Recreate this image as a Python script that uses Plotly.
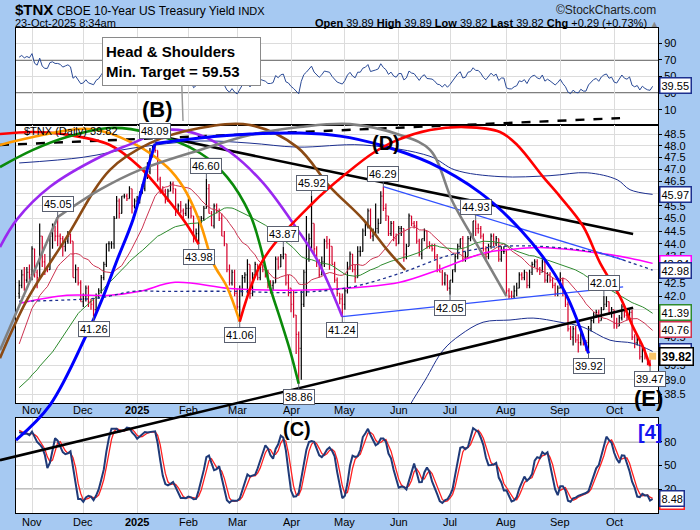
import numpy as np
import pandas as pd
import plotly.graph_objects as go

W, H = 700, 530
FONT = "Liberation Sans, Arial, sans-serif"
BG = "#a6c9f2"
GRID = "#dcdcdc"
UP, DN = "#000000", "#d4002a"

# ---------------- data (TNX = 10-yr yield x 10) ----------------
holidays = ["2024-11-28", "2024-12-25", "2025-01-01", "2025-01-09", "2025-01-20", "2025-02-17",
            "2025-04-18", "2025-05-26", "2025-06-19", "2025-07-04", "2025-09-01", "2025-10-13"]
dates = pd.bdate_range("2024-10-25", "2025-10-23")
dates = dates[~dates.isin(pd.to_datetime(holidays))]

# history before the visible window (Aug 14 - Oct 24, 2024), used for the indicators
pre_closes = [38.3, 39.1, 38.9, 38.7, 38.1, 38.0, 38.6, 38.0, 38.2, 38.3, 38.4, 38.6, 39.1,
              38.4, 37.7, 37.3, 37.2, 37.0, 36.5, 36.5, 36.8, 36.5, 36.2, 36.4, 37.0, 37.3, 37.4,
              37.5, 37.4, 37.9, 38.0, 37.5, 37.8,
              37.4, 37.9, 38.5, 39.8, 40.3, 40.3, 40.7, 40.9, 41.0, 40.3, 40.2, 40.9, 40.8, 41.9,
              42.0, 42.4, 42.1]
pre_highs = [38.1, 38.0, 38.6, 39.9, 40.4, 40.4, 40.8, 41.0, 41.1, 41.0, 40.4, 41.0, 41.0, 42.0, 42.1, 42.6, 42.4]
pre_lows = [37.3, 37.4, 37.9, 38.5, 39.8, 40.0, 40.2, 40.5, 40.6, 40.2, 40.0, 40.2, 40.7, 40.8, 41.8, 42.0, 42.0]

opens = [
    42.1, 42.4, 42.8, 42.6, 42.9,
    42.8, 43.8, 42.9, 42.7, 44.3, 43.3, 43.0, 43.0, 44.3, 44.5, 44.3, 44.3, 44.2, 43.9, 44.1, 44.3, 44.1, 42.7, 43.0, 42.5,
    41.8, 41.9, 42.3, 41.8, 41.7, 41.5, 42.0, 42.2, 42.7, 43.2, 44.0, 44.0, 44.0, 45.0, 45.7, 45.2, 45.9, 45.9, 45.8, 46.2, 45.5,
    45.7, 45.7, 46.0, 46.2, 46.8, 46.9, 47.7, 47.9, 47.8, 46.6, 46.1, 46.1, 45.7, 46.1, 46.4, 46.2, 45.3, 45.5, 45.3, 45.2,
    45.4, 45.4, 45.1, 44.2, 44.4, 44.9, 45.0, 45.4, 46.2, 45.2, 44.7, 45.5, 45.3, 45.0, 44.3, 44.0, 43.0, 42.5, 42.9,
    42.1, 41.6, 42.2, 42.7, 42.8, 43.2, 42.1, 42.8, 43.2, 42.7, 43.1, 43.0, 42.8, 42.4, 42.4, 42.5, 43.4, 43.1, 43.5, 43.6, 42.5,
    42.3, 41.7, 41.3, 40.6, 40.1, 41.7, 42.9, 43.4, 44.2, 44.8, 43.8, 43.3, 42.8, 43.3, 44.1, 44.0, 43.9, 43.2, 42.6, 42.1, 41.9,
    41.7, 42.2, 43.1, 43.6, 43.0, 42.7, 43.7, 43.7, 44.5, 44.7, 45.3, 44.3, 44.4, 44.6, 44.8, 45.9, 45.4, 45.1, 44.4, 44.8, 44.2,
    44.0, 44.6, 44.6, 43.6, 43.9, 45.1, 44.8, 44.7, 44.1, 43.6, 44.2, 44.5, 43.9, 43.9, 43.8, 43.5, 43.0, 42.9, 42.5, 42.8,
    42.3, 42.6, 43.0, 43.5, 43.9, 44.2, 43.4, 43.5, 44.2, 44.3, 44.9, 44.6, 44.6, 44.3, 43.8, 43.5, 43.9, 44.3, 44.0, 44.2, 43.4, 43.7,
    43.7, 42.2, 42.0, 42.0, 42.2, 42.3, 42.8, 42.7, 42.9, 42.4, 42.9, 43.2, 43.3, 43.0, 42.9, 43.3, 42.6, 42.8, 42.6, 42.4, 42.1,
    42.3, 42.6, 42.1, 41.7, 40.8, 40.5, 40.8, 40.4, 40.3, 40.6, 40.3, 40.3, 40.8, 41.1, 41.3, 41.4, 41.1, 41.5, 41.7, 41.8, 41.4,
    41.5, 41.0, 40.9, 41.2, 41.6, 41.3, 41.2, 41.4, 40.5, 40.3, 40.4, 39.8, 40.1, 39.8, 39.6, 39.89]
highs = [
    42.6, 43.0, 43.1, 43.1, 43.2,
    43.9, 43.8, 43.0, 44.8, 44.3, 43.6, 43.1, 44.3, 44.8, 44.7, 45.05, 44.4, 44.3, 44.2, 44.5, 44.4, 44.1, 43.2, 43.1, 42.6,
    42.1, 42.4, 42.4, 41.9, 41.9, 42.1, 42.3, 42.8, 43.3, 44.0, 44.1, 44.1, 45.1, 45.9, 45.8, 45.9, 46.0, 46.0, 46.3, 46.2, 45.8,
    45.9, 46.1, 46.4, 47.0, 47.3, 47.9, 48.0, 48.09, 47.8, 46.7, 46.3, 46.2, 46.2, 46.5, 46.5, 46.2, 45.6, 45.7, 45.4, 45.6,
    45.8, 45.5, 45.1, 44.6, 45.1, 45.1, 45.5, 46.60, 46.4, 45.3, 45.6, 45.6, 45.4, 45.2, 44.5, 44.0, 43.2, 43.0, 43.0,
    42.3, 42.4, 42.8, 42.9, 43.4, 43.2, 42.9, 43.3, 43.2, 43.2, 43.2, 43.0, 43.0, 42.6, 42.6, 43.5, 43.5, 43.6, 43.87, 43.6, 42.8,
    42.3, 42.2, 41.3, 40.7, 42.2, 43.0, 45.1, 44.4, 45.92, 44.8, 43.9, 43.4, 43.5, 44.2, 44.3, 44.2, 43.9, 43.3, 42.7, 42.1, 42.1,
    42.3, 43.3, 43.7, 43.6, 43.2, 43.9, 43.9, 44.6, 44.9, 45.4, 45.4, 44.6, 45.6, 45.0, 46.1, 46.29, 45.6, 45.1, 44.9, 44.9, 44.4,
    44.7, 44.7, 44.6, 44.0, 45.2, 45.1, 44.9, 44.9, 44.2, 44.2, 44.6, 44.5, 44.1, 44.0, 44.0, 43.6, 43.2, 43.0, 42.9, 42.8,
    42.6, 43.0, 43.6, 44.0, 44.2, 44.3, 43.7, 44.3, 44.4, 44.9, 44.93, 44.8, 44.7, 44.4, 43.9, 44.0, 44.4, 44.4, 44.3, 44.2, 43.9, 43.9,
    43.8, 42.3, 42.2, 42.4, 42.5, 42.9, 42.9, 43.0, 42.9, 43.0, 43.3, 43.4, 43.4, 43.1, 43.4, 43.4, 42.9, 42.9, 42.7, 42.5, 42.4,
    42.9, 42.7, 42.2, 41.8, 40.9, 40.9, 40.9, 40.6, 40.7, 40.6, 40.4, 40.9, 41.2, 41.4, 41.5, 41.5, 41.6, 42.01, 42.0, 41.8, 41.6,
    41.5, 41.2, 41.3, 41.7, 41.7, 41.4, 41.5, 41.5, 40.6, 40.6, 40.4, 40.2, 40.1, 39.8, 39.7, 39.89]
lows = [
    41.9, 42.3, 42.2, 42.5, 42.6,
    42.6, 42.7, 42.3, 42.7, 43.1, 42.8, 42.9, 43.0, 43.8, 44.1, 43.9, 43.9, 43.5, 43.7, 44.0, 44.0, 42.7, 42.5, 42.4, 41.8,
    41.6, 41.8, 41.6, 41.5, 41.26, 41.4, 41.9, 42.1, 42.6, 43.1, 43.7, 43.8, 43.8, 45.0, 45.0, 45.2, 45.8, 45.7, 45.8, 45.2, 45.4,
    45.4, 45.6, 46.0, 46.1, 46.6, 46.8, 47.5, 47.7, 46.5, 46.0, 46.0, 45.6, 45.7, 46.1, 46.0, 45.1, 45.2, 45.2, 45.0, 45.1,
    45.0, 45.0, 44.05, 44.1, 43.98, 44.8, 44.9, 45.4, 45.2, 44.7, 44.6, 45.2, 44.9, 44.3, 43.9, 42.9, 42.4, 42.4, 42.0,
    41.5, 41.06, 42.0, 42.5, 42.1, 41.9, 42.0, 42.7, 42.6, 42.6, 42.9, 42.7, 42.3, 42.1, 42.2, 42.5, 43.0, 43.1, 43.4, 42.4, 42.0,
    41.4, 41.2, 39.9, 38.86, 39.0, 41.6, 42.0, 43.3, 43.8, 43.6, 43.1, 42.7, 42.8, 43.1, 43.8, 43.0, 43.2, 42.5, 42.0, 41.7, 41.24,
    41.5, 42.1, 43.0, 42.9, 42.5, 42.7, 43.5, 43.7, 44.3, 44.6, 44.2, 44.1, 44.3, 44.4, 44.8, 45.3, 44.9, 44.3, 44.3, 44.1, 43.9,
    44.0, 44.3, 43.3, 43.4, 43.9, 44.7, 44.6, 44.0, 43.5, 43.4, 44.1, 43.8, 43.8, 43.7, 43.4, 42.9, 42.9, 42.4, 42.4, 42.2,
    42.05, 42.5, 42.9, 43.4, 43.8, 43.3, 43.3, 43.5, 44.1, 44.2, 44.3, 44.4, 44.2, 43.7, 43.4, 43.4, 43.8, 43.9, 43.9, 43.3, 43.3, 43.6,
    42.0, 41.9, 41.9, 41.9, 42.0, 42.3, 42.6, 42.6, 42.3, 42.3, 42.8, 43.1, 42.9, 42.8, 42.9, 42.5, 42.5, 42.5, 42.3, 42.0, 42.0,
    42.3, 42.0, 41.6, 40.7, 40.4, 40.2, 40.3, 39.95, 40.2, 40.2, 40.0, 39.92, 40.7, 41.0, 41.2, 41.0, 41.1, 41.5, 41.6, 41.3, 41.2,
    40.8, 40.8, 40.9, 41.1, 41.2, 41.1, 41.1, 40.4, 40.1, 40.2, 39.7, 39.6, 39.7, 39.5, 39.47, 39.82]
closes = [
    42.4, 42.8, 42.6, 42.9, 42.8,
    43.8, 42.9, 42.7, 44.3, 43.3, 43.0, 43.0, 44.3, 44.5, 44.3, 44.3, 44.2, 43.9, 44.1, 44.3, 44.1, 42.7, 43.0, 42.5, 41.8,
    41.9, 42.3, 41.8, 41.7, 41.5, 42.0, 42.2, 42.7, 43.2, 44.0, 44.0, 44.0, 45.0, 45.7, 45.2, 45.9, 45.9, 45.8, 46.2, 45.5, 45.7,
    45.7, 46.0, 46.2, 46.8, 46.9, 47.7, 47.9, 47.8, 46.6, 46.1, 46.1, 45.7, 46.1, 46.4, 46.2, 45.3, 45.5, 45.3, 45.2, 45.4,
    45.4, 45.1, 44.2, 44.4, 44.9, 45.0, 45.4, 46.2, 45.2, 44.7, 45.5, 45.3, 45.0, 44.3, 44.0, 43.0, 42.5, 42.9, 42.1,
    41.6, 42.2, 42.7, 42.8, 43.2, 42.1, 42.8, 43.2, 42.7, 43.1, 43.0, 42.8, 42.4, 42.4, 42.5, 43.4, 43.1, 43.5, 43.6, 42.5, 42.3,
    41.7, 41.3, 40.6, 40.1, 41.7, 42.9, 43.4, 44.2, 44.8, 43.8, 43.3, 42.8, 43.3, 44.1, 44.0, 43.9, 43.2, 42.6, 42.1, 41.9, 41.7,
    42.2, 43.1, 43.6, 43.0, 42.7, 43.7, 43.7, 44.5, 44.7, 45.3, 44.3, 44.4, 44.6, 44.8, 45.9, 45.4, 45.1, 44.4, 44.8, 44.2, 44.0,
    44.6, 44.6, 43.6, 43.9, 45.1, 44.8, 44.7, 44.1, 43.6, 44.2, 44.5, 43.9, 43.9, 43.8, 43.5, 43.0, 42.9, 42.5, 42.8, 42.3,
    42.6, 43.0, 43.5, 43.9, 44.2, 43.4, 43.5, 44.2, 44.3, 44.9, 44.6, 44.6, 44.3, 43.8, 43.5, 43.9, 44.3, 44.0, 44.2, 43.4, 43.7, 43.7,
    42.2, 42.0, 42.0, 42.2, 42.3, 42.8, 42.7, 42.9, 42.4, 42.9, 43.2, 43.3, 43.0, 42.9, 43.3, 42.6, 42.8, 42.6, 42.4, 42.1, 42.3,
    42.6, 42.1, 41.7, 40.8, 40.5, 40.8, 40.4, 40.3, 40.6, 40.3, 40.3, 40.8, 41.1, 41.3, 41.4, 41.1, 41.5, 41.7, 41.8, 41.4, 41.5,
    41.0, 40.9, 41.2, 41.6, 41.3, 41.2, 41.4, 40.5, 40.3, 40.4, 39.8, 40.1, 39.8, 39.6, 39.53, 39.82]

# overlays (bar index, value)
ma200_x = [0, 18.6, 35.4, 47.1, 60.8, 82.2, 101.7, 121.2, 132.9, 148.5, 162.9, 180.9, 191.4, 203.1, 226.5, 238.2, 247]
ma200_y = [41.73, 42.03, 42.03, 42.18, 42.52, 42.29, 42.22, 42.26, 42.33, 42.52, 42.97, 43.63, 43.78, 43.85, 43.63, 43.44, 43.24]
mid_x = [0, 31.5, 44.4, 56.1, 82.2, 108.4, 129.0, 148.5, 168.0, 183.6, 203.1, 226.5, 238.2, 247]
mid_y = [41.81, 41.94, 42.18, 42.18, 42.18, 42.14, 42.33, 42.86, 43.56, 43.86, 43.90, 43.63, 43.28, 42.98]
upper_x = [0, 25.0, 44.4, 70.5, 90.0, 108.4, 134.1, 160.2, 169.9, 187.5, 207.0, 221.5, 233.2, 238.2, 247]
upper_y = [47.27, 47.51, 47.90, 48.20, 48.11, 47.94, 48.03, 47.55, 46.98, 46.70, 46.74, 46.86, 46.57, 46.16, 45.97]
lower_x = [150.5, 152.4, 158.3, 165.3, 171.9, 180.9, 191.4, 200.4, 210.9, 219.9, 230.4, 239.4, 247]
lower_y = [37.79, 38.13, 38.98, 40.03, 40.57, 41.04, 41.12, 41.19, 41.04, 40.86, 40.39, 40.28, 39.99]

# drawn cycle arcs and trendlines (bar index, price)
arcs = [
    ("#ff0000", 2.6, [-7.5, 5, 17, 35.4, 47, 57.7, 65.4, 70],
     [48.50, 48.59, 48.50, 48.03, 47.10, 45.80, 44.75, 43.98]),
    ("#ff9900", 2.6, [-7.5, 5.4, 27.6, 44.4, 57.7, 63.9, 70.5, 75.6, 81.0, 86],
     [48.03, 48.37, 48.72, 48.11, 47.10, 46.28, 44.84, 43.26, 42.35, 41.06]),
    ("#0a8a0a", 2.6, [-7.5, 5.4, 18.6, 35.4, 51.0, 70.5, 81.0, 90.0, 93.9, 97.8, 101.7, 105.6, 109],
     [47.10, 47.82, 48.37, 48.76, 48.54, 47.69, 46.69, 45.16, 43.95, 42.35, 41.19, 40.03, 38.86]),
    ("#9a28f0", 2.6, [-7.5, -0.85, 12.0, 31.5, 44.4, 56.9, 70.5, 82.2, 95.1, 108.4, 116.2, 126],
     [43.87, 44.96, 46.28, 47.52, 48.11, 48.67, 48.46, 47.73, 46.44, 44.57, 43.37, 41.24]),
    ("#8b4a14", 2.6, [-7.5, 3.05, 17.9, 35.4, 51.0, 70.5, 90.0, 108.4, 121.2, 134.1, 143.5, 150.5],
     [39.75, 41.86, 44.15, 46.98, 48.11, 48.76, 48.89, 47.94, 46.28, 44.96, 43.76, 42.99]),
    ("#808080", 2.6, [15, 31.5, 47.1, 70.5, 90.0, 109.5, 129.0, 148.5, 160.2, 169.2, 179.7, 190],
     [45.05, 46.16, 46.98, 47.82, 48.46, 48.80, 48.93, 48.46, 47.82, 45.63, 43.76, 42.0]),
    ("#0000ff", 3.0, [-1.24, 12.0, 26.5, 32.7, 38.2, 44.4, 49.9, 53],
     [36.96, 38.13, 40.64, 41.97, 43.37, 44.96, 46.98, 48.09]),
    ("#0000ff", 3.0, [53, 70.5, 90.0, 109.5, 125.1, 140.7, 160.2, 179.7, 195.3, 207.0, 213.7, 218.7, 222],
     [48.09, 48.33, 48.50, 48.54, 48.41, 48.03, 47.27, 46.04, 44.57, 43.10, 41.97, 40.83, 39.92]),
    ("#ff0000", 2.6, [86, 95.1, 114.6, 127.9, 138.0, 147.4, 160.2, 173.9, 187.5, 194.2, 204.3, 210.9, 219.9,
                      226.5, 234.3, 239.4, 243.3, 246],
     [41.06, 43.37, 45.63, 46.86, 47.69, 48.24, 48.67, 48.80, 48.59, 48.03, 46.69, 45.88, 44.69, 43.26, 41.97,
      40.86, 40.14, 39.47]),
]
lines = [
    ("#808080", 2.6, "solid", [-7.5, 15], [40.03, 45.05]),
    ("#000000", 2.6, "solid", [-7.48, 239.4], [36.31, 41.57]),
    ("#000000", 2.6, "solid", [55, 239.4], [48.4, 44.38]),
    ("#000000", 2.4, "dash", [-7.48, 234.3], [48.03, 49.19]),
    ("#3050ff", 1.3, "solid", [142, 235.5], [46.29, 43.37]),
    ("#3050ff", 1.3, "solid", [126, 235.5], [41.24, 42.35]),
]

label_idx = [15, 29, 53, 70, 73, 86, 103, 109, 114, 126, 142, 168, 178, 222, 228, 246]
label_val = [45.05, 41.26, 48.09, 43.98, 46.60, 41.06, 43.87, 38.86, 45.92, 41.24, 46.29, 42.05, 44.93, 39.92, 42.01, 39.47]
label_dir = ["up", "dn", "up", "dn", "up", "dn", "up", "dn", "up", "dn", "up", "dn", "up", "dn", "up", "dn"]

tag_vals = [45.97, 43.24, 42.98, 41.39, 40.76, 39.99, 39.82]
tag_cols = ["#1c2f8f", "#ff00ff", "#1c2f8f", "#2e8b2e", "#cc3350", "#1c2f8f", "#000000"]
rsi_last, stoch_last = 39.55, 8.48
hidden_ticks = [46.0, 43.0, 40.0]   # tick labels covered by the value tags

# ---------------- indicators ----------------
x = np.arange(len(dates))
npre = len(pre_closes)
allc = np.array(pre_closes + closes)
d = np.diff(allc)
g = np.where(d > 0, d, 0.0)
l = np.where(d < 0, -d, 0.0)
ag, al = g[:14].mean(), l[:14].mean()
rsi_all = np.full(len(allc), np.nan)
for i in range(14, len(d)):
    ag = (ag * 13 + g[i]) / 14
    al = (al * 13 + l[i]) / 14
    rsi_all[i + 1] = 100 - 100 / (1 + ag / al)
rsi = rsi_all[npre:]

ma20 = pd.Series(allc).rolling(20).mean().values[npre:]
ma50 = pd.Series(allc).rolling(50).mean().values[npre:]

nph = len(pre_highs)
sh = pd.Series(pre_highs + highs)
sl = pd.Series(pre_lows + lows)
sc = pd.Series(pre_closes[-nph:] + closes)
hh, ll = sh.rolling(14).max(), sl.rolling(14).min()
fk = 100 * (sc - ll) / (hh - ll)
sk = fk.rolling(3).mean()
sd = sk.rolling(3).mean()
sk, sd = sk.values[nph:], sd.values[nph:]

# ---------------- geometry ----------------
PX_L, PX_R = 16, 658
X0, X1 = -1.24, 249.1
RSI_T, RSI_B = 28, 125
MAIN_T, MAIN_B = 125, 403
ST_T, ST_B = 418, 513
YMIN, YMAX = 38.20, 48.89
L0, L1 = np.log10(YMIN), np.log10(YMAX)
kx = (X1 - X0) / (PX_R - PX_L)
ov_x = [X0 - PX_L * kx, X1 + (W - PX_R) * kx]
ky = (L1 - L0) / (MAIN_B - MAIN_T)
ov_y = [L0 - (H - MAIN_B) * ky, L1 + MAIN_T * ky]


def pdom(t, b):
    return [1 - b / H, 1 - t / H]


m = dates.to_period("M")
starts = [i for i in range(1, len(dates)) if m[i] != m[i - 1]]
mlabels = ["<b>2025</b>" if dates[i].month == 1 else dates[i].strftime("%b") for i in starts]

fig = go.Figure()

# RSI
fig.add_trace(go.Scatter(x=x, y=rsi, mode="lines", line=dict(color="#2a4a96", width=1),
                         xaxis="x", yaxis="y", hoverinfo="skip"))

# price bars
fig.add_trace(go.Scatter(x=[x[-1]], y=[closes[-1]], mode="markers",
                         marker=dict(symbol="square", size=7, color="#f9c46a", line=dict(width=0)),
                         xaxis="x2", yaxis="y2", hoverinfo="skip"))
fig.add_trace(go.Ohlc(x=x, open=opens, high=highs, low=lows, close=closes,
                      increasing=dict(line=dict(color=UP, width=1.2)),
                      decreasing=dict(line=dict(color=DN, width=1.2)),
                      tickwidth=0.35, xaxis="x2", yaxis="y2", hoverinfo="skip"))

# moving averages / bands
fig.add_trace(go.Scatter(x=x, y=ma20, mode="lines", line=dict(color="#cc3350", width=1),
                         xaxis="x2", yaxis="y2", hoverinfo="skip"))
fig.add_trace(go.Scatter(x=x, y=ma50, mode="lines", line=dict(color="#2e8b2e", width=1),
                         xaxis="x2", yaxis="y2", hoverinfo="skip"))
fig.add_trace(go.Scatter(x=ma200_x, y=ma200_y, mode="lines",
                         line=dict(color="#ff00ff", width=1.5, shape="spline"),
                         xaxis="x2", yaxis="y2", hoverinfo="skip"))
fig.add_trace(go.Scatter(x=mid_x, y=mid_y, mode="lines",
                         line=dict(color="#1c2f8f", width=1.3, dash="dot", shape="spline"),
                         xaxis="x2", yaxis="y2", hoverinfo="skip"))
for bx, by in [(upper_x, upper_y), (lower_x, lower_y)]:
    fig.add_trace(go.Scatter(x=bx, y=by, mode="lines",
                             line=dict(color="#1c2f8f", width=1, shape="spline"),
                             xaxis="x2", yaxis="y2", hoverinfo="skip"))

# stochastics
fig.add_trace(go.Scatter(x=x, y=sd, mode="lines", line=dict(color="#ff2020", width=1.3),
                         xaxis="x3", yaxis="y3", hoverinfo="skip"))
fig.add_trace(go.Scatter(x=x, y=sk, mode="lines", line=dict(color="#1f3a78", width=2),
                         xaxis="x3", yaxis="y3", hoverinfo="skip"))

# drawn annotations on a full-figure overlay that shares the price scale
for col, wd, dash, lx, ly in lines:
    fig.add_trace(go.Scatter(x=lx, y=ly, mode="lines", line=dict(color=col, width=wd, dash=dash),
                             xaxis="x4", yaxis="y4", hoverinfo="skip"))
for col, wd, ax_, ay_ in arcs:
    fig.add_trace(go.Scatter(x=ax_, y=ay_, mode="lines",
                             line=dict(color=col, width=wd, shape="spline", smoothing=1.0),
                             xaxis="x4", yaxis="y4", hoverinfo="skip"))

# ---------------- layout ----------------
xcommon = dict(range=[X0, X1], domain=[PX_L / W, PX_R / W], tickmode="array", tickvals=starts,
               showticklabels=False, showgrid=True, gridcolor=GRID, gridwidth=1, showline=True, mirror=True,
               linecolor="black", linewidth=1, zeroline=False, ticks="", fixedrange=True)
ycommon = dict(side="right", showgrid=True, gridcolor=GRID, gridwidth=1, showline=True, mirror=True,
               linecolor="black", linewidth=1, zeroline=False, ticks="outside", ticklen=3,
               tickcolor="black", tickfont=dict(size=11, color="black", family=FONT), fixedrange=True)
main_ticks = [round(v, 1) for v in np.arange(38.5, 48.51, 0.5)]
main_text = ["" if v in hidden_ticks else f"{v:.1f}" for v in main_ticks]

shapes = []
for t, b in [(RSI_T, RSI_B), (MAIN_T, MAIN_B), (ST_T, ST_B)]:
    d0, d1 = pdom(t, b)
    shapes.append(dict(type="rect", xref="paper", yref="paper", x0=PX_L / W, x1=PX_R / W, y0=d0, y1=d1,
                       fillcolor="white", line=dict(width=0), layer="below"))
for yref, lv, dash in [("y", 70, "solid"), ("y", 30, "solid"), ("y", 50, "dashdot"),
                       ("y3", 80, "solid"), ("y3", 20, "solid"), ("y3", 50, "dashdot")]:
    shapes.append(dict(type="line", xref="paper", yref=yref, x0=PX_L / W, x1=PX_R / W, y0=lv, y1=lv,
                       line=dict(color="black", width=1.2, dash=dash), layer="below"))

ann = []


def ptxt(px, py, text, size=12, anchor="left", bold=False, color="black", **kw):
    ann.append(dict(xref="paper", yref="paper", x=px / W, y=1 - py / H, text=f"<b>{text}</b>" if bold else text,
                    showarrow=False, xanchor=anchor, yanchor="middle",
                    font=dict(size=size, color=color, family=FONT), **kw))


# month labels under the price panel and under the stochastic panel
for i, lab in zip(starts, mlabels):
    px = PX_L + (i - X0) / kx
    ptxt(px, 410, lab, size=11, anchor="center")
    ptxt(px, 522, lab, size=11, anchor="center")

ptxt(13, 10, "<b><span style='font-size:15px'>$TNX</span></b> CBOE 10-Year US Treasury Yield "
             "<span style='font-size:11px'>INDX</span>", size=12)
ptxt(13, 23, "23-Oct-2025 8:34am", size=11)
ptxt(658, 10, "©StockCharts.com", size=12, anchor="right", color="#222")
ptxt(661, 23, "<b>Open</b> 39.89 <b>High</b> 39.89 <b>Low</b> 39.82 <b>Last</b> 39.82 "
              "<b>Chg</b> +0.29 (+0.73%) <span style='color:#888;font-size:9px'>▲</span>", size=11, anchor="right")
ptxt(22, 131, "$TNX (Daily) 39.82", size=11)
ptxt(157, 110, "(B)", size=22, anchor="center", bold=True)
ptxt(386, 143, "(D)", size=20, anchor="center", bold=True)
ptxt(297, 429, "(C)", size=20, anchor="center", bold=True)
ptxt(648, 398, "(E)", size=22, anchor="center", bold=True)
ptxt(650, 432, "[4]", size=20, anchor="center", bold=True, color="#1414f0")

ann.append(dict(xref="paper", yref="paper", x=183 / W, y=1 - 121 / H, ax=-2, ay=-60, axref="pixel", ayref="pixel",
                text="<b>Head & Shoulders<br>Min. Target = 59.53</b>", align="left", showarrow=True,
                arrowhead=0, arrowwidth=1.5, arrowcolor="#9a9a9a", bgcolor="white", bordercolor="#8a8a8a",
                borderwidth=1, borderpad=3, width=151, height=41,
                font=dict(size=15, color="black", family=FONT)))

for i, v, dr in zip(label_idx, label_val, label_dir):
    ann.append(dict(xref="x2", yref="y2", x=i, y=np.log10(v), text=f"{v:.2f}", showarrow=True,
                    arrowhead=0, arrowwidth=1, arrowcolor="#5a6070", ax=0, ay=-13 if dr == "up" else 13,
                    bgcolor="white", bordercolor="#5a6070", borderwidth=1, borderpad=1,
                    font=dict(size=11, color="black", family=FONT)))

for v, c in zip(tag_vals, tag_cols):
    ann.append(dict(xref="paper", yref="y2", x=659 / W, y=np.log10(v), xanchor="left", yanchor="middle",
                    text=f"<b>{v:.2f}</b>" if c == "#000000" else f"{v:.2f}", showarrow=False,
                    bgcolor="white", bordercolor=c, borderwidth=1.5, borderpad=1,
                    font=dict(size=11 if c != "#000000" else 12, color="black", family=FONT)))
ann.append(dict(xref="paper", yref="y", x=659 / W, y=rsi_last, xanchor="left", yanchor="middle",
                text=f"{rsi_last:.2f}", showarrow=False, bgcolor="white", bordercolor="#1c2f8f",
                borderwidth=1.5, borderpad=1, font=dict(size=11, color="black", family=FONT)))
ann.append(dict(xref="paper", yref="y3", x=659 / W, y=sd[-1] - 4, xanchor="left", yanchor="middle",
                text=f"{sd[-1]:.2f}", showarrow=False, bgcolor="white", bordercolor="#ff2020",
                borderwidth=1.5, borderpad=1, font=dict(size=11, color="black", family=FONT)))
ann.append(dict(xref="paper", yref="y3", x=659 / W, y=stoch_last, xanchor="left", yanchor="middle",
                text=f"{stoch_last:.2f}", showarrow=False, bgcolor="white", bordercolor="#1c2f8f",
                borderwidth=1.5, borderpad=1, font=dict(size=11, color="black", family=FONT)))

fig.update_layout(
    width=W, height=H, margin=dict(l=0, r=0, t=0, b=0),
    paper_bgcolor=BG, plot_bgcolor="rgba(0,0,0,0)", showlegend=False,
    font=dict(family=FONT, size=11, color="black"),
    xaxis=dict(xcommon, anchor="y"),
    xaxis2=dict(xcommon, anchor="y2", rangeslider=dict(visible=False)),
    xaxis3=dict(xcommon, anchor="y3"),
    yaxis=dict(ycommon, domain=pdom(RSI_T, RSI_B), range=[-8, 108], tickvals=[10, 30, 50, 70, 90]),
    yaxis2=dict(ycommon, domain=pdom(MAIN_T, MAIN_B), type="log", range=[L0, L1],
                tickvals=main_ticks, ticktext=main_text),
    yaxis3=dict(ycommon, domain=pdom(ST_T, ST_B), range=[-10, 110], tickvals=[20, 50, 80]),
    xaxis4=dict(domain=[0, 1], range=ov_x, visible=False, anchor="y4", fixedrange=True),
    yaxis4=dict(domain=[0, 1], type="log", range=ov_y, visible=False, anchor="x4", fixedrange=True),
    shapes=shapes, annotations=ann,
)

fig.write_html("out.html", config={"displayModeBar": False},
               post_script="document.body.style.margin='0px';document.body.style.overflow='hidden';")
